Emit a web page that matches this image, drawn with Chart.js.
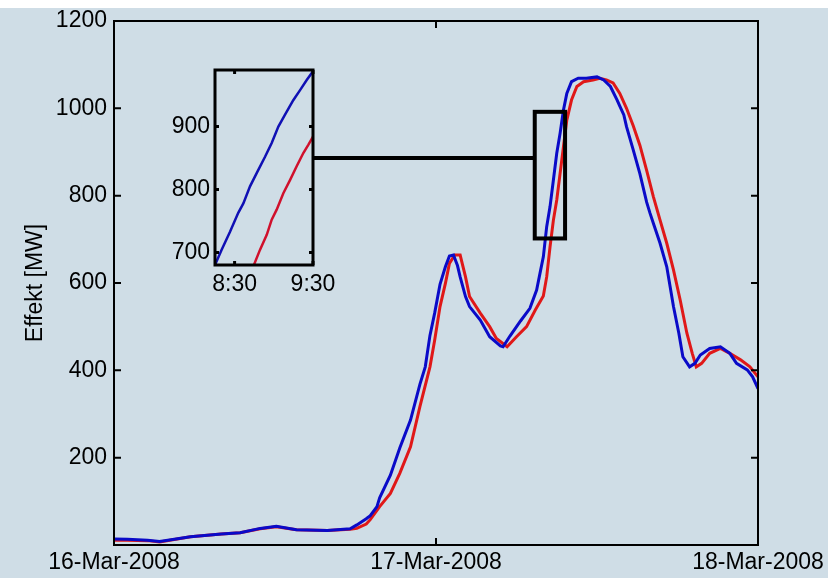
<!DOCTYPE html>
<html>
<head>
<meta charset="utf-8">
<script src="https://cdn.jsdelivr.net/npm/chart.js@4.4.1/dist/chart.umd.min.js"></script>
<style>
body { margin: 0; background: #fff; }
#wrap { position: relative; width: 840px; height: 578px; }
#bg { position: absolute; left: 0; top: 8px; width: 828px; height: 570px; background: #cfdde6; }
#main { position: absolute; left: 0; top: 0; }
#inset { position: absolute; left: 150px; top: 60px; }
</style>
</head>
<body>
<div id="wrap">
  <div id="bg"></div>
  <canvas id="main" width="840" height="578"></canvas>
  <canvas id="inset" width="200" height="240"></canvas>
</div>
<script>
// main series: hours since 16-Mar-2008 00:00, power in MW
const blueHours = [0, 1, 2.5, 3.4, 5.7, 8, 9.4, 10.9, 12.1, 13.6, 15.9, 17.6, 18.1, 18.8, 19.1, 19.6, 19.8,
  20.6, 21.3, 22.1, 22.8, 23.2, 23.55, 23.9, 24.3, 24.7, 25.0, 25.3, 25.6, 25.8, 26.2, 26.5, 27.3, 28.0,
  28.8, 29.0, 29.5, 30.3, 31.0, 31.5, 31.75, 32.0, 32.25, 32.5, 32.75, 33.0, 33.25, 33.5, 33.75, 34.1,
  34.6, 35.2, 36.0, 36.5, 37.0, 37.5, 37.7, 38.0, 38.2, 38.7, 39.2, 39.7, 39.95, 40.2, 40.7, 41.2, 41.7,
  42.1, 42.4, 42.9, 43.3, 43.7, 44.4, 45.2, 45.9, 46.4, 47.2, 47.6, 48];
const blueMW = [14, 13, 11, 8, 19, 25, 28, 38, 43, 35, 33, 37, 46, 60, 67, 88, 108,
  160, 222, 286, 368, 408, 480, 531, 597, 637, 662, 664, 640, 614, 569, 546, 515, 477,
  456, 454, 478, 513, 542, 584, 622, 660, 729, 775, 836, 897, 943, 996, 1034, 1061,
  1069, 1069, 1072, 1065, 1050, 1019, 1005, 985, 958, 905, 850, 785, 760, 737, 691, 637, 546,
  485, 431, 408, 416, 435, 450, 454, 439, 416, 401, 385, 358];

const redHours = [0, 1, 2.5, 3.4, 5.7, 8, 9.4, 10.9, 12.1, 13.6, 15.9, 17.6, 18.1, 18.8, 19.1, 19.8,
  20.6, 21.3, 22.1, 22.8, 23.55, 23.9, 24.3, 24.7, 25.0, 25.4, 25.8, 26.2, 26.5, 27.3, 28.0, 28.5,
  29.3, 30.0, 30.75, 31.4, 32.0, 32.25, 32.5, 32.75, 33.0, 33.25, 33.5, 33.75, 34.1, 34.5, 35.0, 35.7,
  36.2, 36.7, 37.2, 37.7, 38.2, 38.7, 39.2, 39.7, 40.2, 40.7, 41.2, 41.7, 42.2, 42.7, 43.1, 43.4,
  43.8, 44.4, 45.2, 45.9, 46.7, 47.4, 48];
const redMW = [11, 11, 10, 7, 19, 25, 28, 37, 42, 35, 33, 36, 38, 48, 58, 88,
  118, 164, 225, 317, 408, 469, 546, 599, 645, 664, 664, 614, 569, 531, 500, 473,
  454, 477, 500, 538, 570, 614, 683, 744, 790, 851, 912, 973, 1019, 1050, 1061, 1065,
  1069, 1065, 1058, 1034, 1000, 960, 915, 858, 798, 744, 691, 630, 561, 485, 439, 408,
  416, 439, 450, 439, 424, 408, 385];

const xTickHours = [0, 24, 48];
const xTickLabels = ['16-Mar-2008', '17-Mar-2008', '18-Mar-2008'];

// zoomed window drawn on the main plot (hours, MW) and the level of its link line
const zoomHours = [31.36, 33.62];
const zoomMW = [702, 992];
const zoomLinkMW = 886;

// inset series: minutes after 17-Mar 00:00
const insetBlueMin = [495, 500, 506.5, 512.8, 516.7, 521.8, 526.9, 533.3, 538.4, 543.5, 548.6, 554.9, 560.1, 565.2, 570];
const insetBlueMW = [680, 704, 733, 763, 778, 805, 826, 852, 874, 900, 919, 942, 958, 974, 988];
const insetRedMin = [524, 529.4, 534.6, 538.4, 542.2, 547.3, 552.4, 557.5, 562.6, 566.4, 570];
const insetRedMW = [676, 704, 728, 752, 768, 794, 815, 837, 858, 871, 884];
const insetXTicks = [510, 570];
const insetXLabels = ['8:30', '9:30'];
const insetYTicks = [700, 800, 900];

const tickFont = { family: "'Liberation Sans', Arial", size: 23 };

function pairs(xs, ys) {
    return xs.map((x, i) => ({ x: x, y: ys[i] }));
}

// box round the plot with inward ticks, like the original
function framePlugin(lw, len) {
    return {
        id: 'frame',
        afterDatasetsDraw(chart) {
            const ctx = chart.ctx;
            const a = chart.chartArea;
            const x = chart.scales.x;
            const y = chart.scales.y;
            ctx.save();
            ctx.strokeStyle = '#000';
            ctx.lineWidth = lw;
            ctx.strokeRect(a.left, a.top, a.right - a.left, a.bottom - a.top);
            ctx.beginPath();
            y.ticks.forEach(t => {
                const py = y.getPixelForValue(t.value);
                ctx.moveTo(a.left, py); ctx.lineTo(a.left + len, py);
                ctx.moveTo(a.right, py); ctx.lineTo(a.right - len, py);
            });
            x.ticks.forEach(t => {
                const px = x.getPixelForValue(t.value);
                ctx.moveTo(px, a.bottom); ctx.lineTo(px, a.bottom - len);
                ctx.moveTo(px, a.top); ctx.lineTo(px, a.top + len);
            });
            ctx.stroke();
            ctx.restore();
        }
    };
}

const insetCanvas = document.getElementById('inset');
const mainCanvas = document.getElementById('main');

const insetChart = new Chart(insetCanvas.getContext('2d'), {
    type: 'line',
    data: {
        datasets: [
            { data: pairs(insetBlueMin, insetBlueMW), borderColor: '#1010b4', borderWidth: 2.5 },
            { data: pairs(insetRedMin, insetRedMW), borderColor: '#d0102c', borderWidth: 2.5 }
        ]
    },
    options: {
        responsive: false,
        animation: false,
        layout: { padding: { top: 10, right: 37, bottom: 0, left: 0 } },
        elements: { point: { radius: 0 }, line: { tension: 0 } },
        plugins: { legend: { display: false }, tooltip: { enabled: false } },
        scales: {
            x: {
                type: 'linear', min: 495, max: 570,
                afterBuildTicks: s => { s.ticks = insetXTicks.map(v => ({ value: v })); },
                afterFit: s => { s.height = 35; },
                grid: { display: false, drawTicks: false },
                border: { display: false },
                ticks: {
                    padding: 6, color: '#000', font: tickFont, maxRotation: 0,
                    callback: (v) => insetXLabels[insetXTicks.indexOf(v)]
                }
            },
            y: {
                min: 680, max: 990,
                afterBuildTicks: s => { s.ticks = insetYTicks.map(v => ({ value: v })); },
                afterFit: s => { s.width = 65; s.paddingTop = 0; s.paddingBottom = 0; },
                grid: { display: false, drawTicks: false },
                border: { display: false },
                ticks: { padding: 5, color: '#000', font: tickFont }
            }
        }
    },
    plugins: [framePlugin(3, 4)]
});

const zoomPlugin = {
    id: 'zoomBox',
    afterDatasetsDraw(chart) {
        const ctx = chart.ctx;
        const x = chart.scales.x;
        const y = chart.scales.y;
        const x0 = x.getPixelForValue(zoomHours[0]);
        const x1 = x.getPixelForValue(zoomHours[1]);
        const y0 = y.getPixelForValue(zoomMW[0]);
        const y1 = y.getPixelForValue(zoomMW[1]);
        const yl = y.getPixelForValue(zoomLinkMW);
        const insetRight = insetCanvas.offsetLeft - mainCanvas.offsetLeft + insetChart.chartArea.right;
        ctx.save();
        ctx.strokeStyle = '#000';
        ctx.lineWidth = 4;
        ctx.strokeRect(x0, y1, x1 - x0, y0 - y1);
        ctx.beginPath();
        ctx.moveTo(insetRight, yl);
        ctx.lineTo(x0, yl);
        ctx.stroke();
        ctx.restore();
    }
};

new Chart(mainCanvas.getContext('2d'), {
    type: 'line',
    data: {
        datasets: [
            { data: pairs(blueHours, blueMW), borderColor: '#0a0ac8', borderWidth: 3 },
            { data: pairs(redHours, redMW), borderColor: '#e01818', borderWidth: 3 }
        ]
    },
    options: {
        responsive: false,
        animation: false,
        layout: { padding: { top: 21, right: 82, bottom: 0, left: 0 } },
        elements: { point: { radius: 0 }, line: { tension: 0 } },
        plugins: { legend: { display: false }, tooltip: { enabled: false } },
        scales: {
            x: {
                type: 'linear', min: 0, max: 48,
                afterBuildTicks: s => { s.ticks = xTickHours.map(v => ({ value: v })); },
                afterFit: s => { s.height = 33; },
                grid: { display: false, drawTicks: false },
                border: { display: false },
                ticks: {
                    padding: 4, color: '#000', font: tickFont, maxRotation: 0,
                    callback: (v) => xTickLabels[xTickHours.indexOf(v)]
                }
            },
            y: {
                min: 0, max: 1200,
                afterFit: s => { s.width = 114; },
                grid: { display: false, drawTicks: false },
                border: { display: false },
                ticks: {
                    stepSize: 200, padding: 7, color: '#000', font: tickFont,
                    callback: (v) => v === 0 ? '' : v
                },
                title: {
                    display: true, text: 'Effekt [MW]', color: '#000',
                    font: { family: "'Liberation Sans', Arial", size: 23 },
                    padding: { top: 22, bottom: 0 }
                }
            }
        }
    },
    plugins: [framePlugin(2, 7), zoomPlugin]
});
</script>
</body>
</html>
